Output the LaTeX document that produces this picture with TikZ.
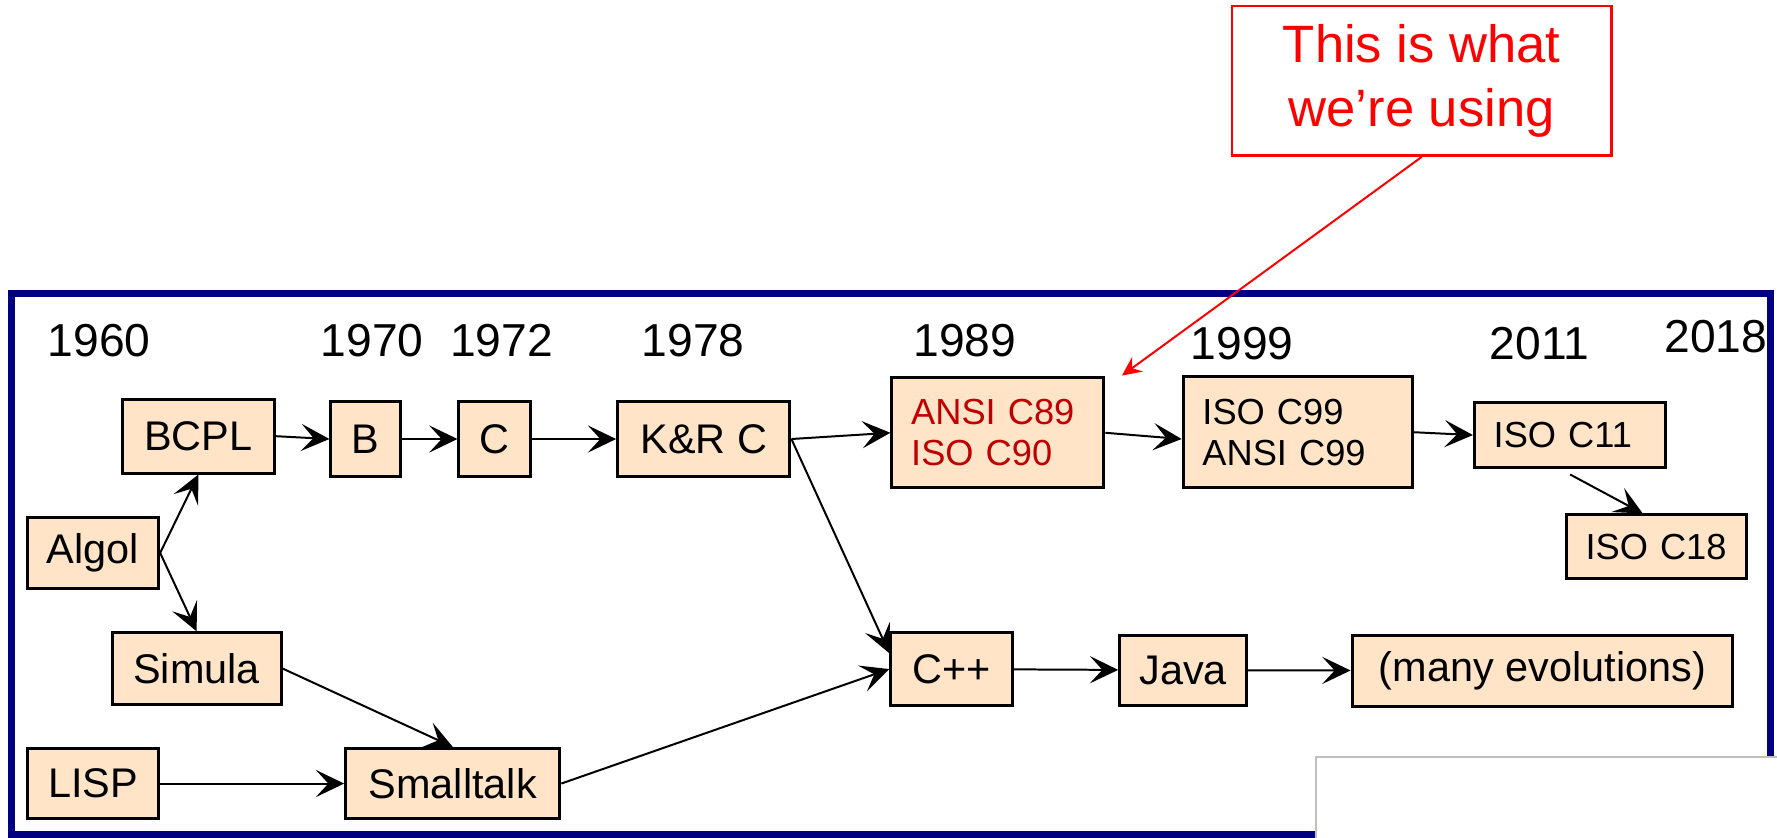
\documentclass[tikz,border=0pt]{standalone}
\usepackage{fontspec}
\setmainfont{Liberation Sans}
\usepackage{xcolor}
\usetikzlibrary{arrows.meta,calc}

\definecolor{peach}{RGB}{255,228,200}
\definecolor{frameblue}{RGB}{0,0,128}
\definecolor{stdred}{RGB}{192,0,0}

\begin{document}
\begin{tikzpicture}[>={Stealth[length=2.5mm,width=2.4mm,inset=1.1mm]},
  lang/.style={draw,line width=0.75pt,fill=peach,inner sep=0pt,
    font=\fontsize{10.4}{12.5}\selectfont},
  std/.style={lang,align=left,inner xsep=0.17cm,
    font=\fontsize{9.1}{10.3}\selectfont},
  yr/.style={anchor=base,font=\fontsize{11.6}{14}\selectfont},
  link/.style={->,line width=0.5pt}]

  \useasboundingbox (0,0) rectangle (15.68,7.394);
  \draw[frameblue,line width=1.7pt] (0.10,0.03) rectangle (15.62,4.805);

  % years along the top
  \node[yr] (y1960) at (0.875,4.25) {1960};
  \node[yr] (y1970) at (3.285,4.25) {1970};
  \node[yr] (y1972) at (4.425,4.25) {1972};
  \node[yr] (y1978) at (6.115,4.25) {1978};
  \node[yr] (y1989) at (8.515,4.25) {1989};
  \node[yr] (y1999) at (10.96,4.22) {1999};
  \node[yr] (y2011) at (13.585,4.22) {2011};
  \node[yr] (y2018) at (15.14,4.28) {2018};

  % languages
  \node[lang,minimum width=1.34cm,minimum height=0.65cm] (bcpl) at (1.75,3.545) {BCPL};
  \node[lang,minimum width=0.61cm,minimum height=0.66cm] (b) at (3.225,3.52) {B};
  \node[lang,minimum width=0.63cm,minimum height=0.66cm] (c) at (4.365,3.52) {C};
  \node[lang,minimum width=1.52cm,minimum height=0.66cm] (kr) at (6.21,3.52) {K\&R C};
  \node[lang,minimum width=1.16cm,minimum height=0.63cm] (algol) at (0.82,2.515) {Algol};
  \node[lang,minimum width=1.49cm,minimum height=0.63cm] (simula) at (1.735,1.495) {Simula};
  \node[lang,minimum width=1.16cm,minimum height=0.62cm] (lisp) at (0.82,0.48) {LISP};
  \node[lang,minimum width=1.89cm,minimum height=0.62cm] (smalltalk) at (3.995,0.48) {Smalltalk};
  \node[lang,minimum width=1.07cm,minimum height=0.65cm] (cpp) at (8.395,1.49) {C++};
  \node[lang,minimum width=1.12cm,minimum height=0.62cm] (java) at (10.44,1.48) {Java};
  \node[lang,minimum width=3.36cm,minimum height=0.63cm] (many) at (13.61,1.475) {(many evolutions)};

  % standards
  \node[std,text width=1.53cm,minimum height=0.97cm,text=stdred] (ansi) at (8.805,3.575) {ANSI C89\\ISO C90};
  \node[std,text width=1.68cm,minimum height=0.98cm] (iso99) at (11.45,3.58) {ISO C99\\ANSI C99};
  \node[std,text width=1.35cm,minimum height=0.57cm] (iso11) at (13.855,3.555) {ISO C11};
  \node[std,text width=1.25cm,minimum height=0.56cm] (iso18) at (14.615,2.57) {ISO C18};

  \draw[link] (algol.east) -- (bcpl.south);
  \draw[link] (algol.east) -- (simula.north);
  \draw[link] (bcpl.east) -- (b.west);
  \draw[link] (b) -- (c);
  \draw[link] (c) -- (kr);
  \draw[link] (kr.east) -- (ansi.west);
  \draw[link] (kr.east) -- ([yshift=0.14cm]cpp.west);
  \draw[link] (ansi.east) -- ([yshift=-0.06cm]iso99.west);
  \draw[link] (iso99.east) -- (iso11.west);
  \draw[link] ($(iso11.south)+(0,-0.05)$) -- ($(iso18.north)+(-0.12,0)$);
  \draw[link] (simula.east) -- (smalltalk.north);
  \draw[link] (lisp) -- (smalltalk);
  \draw[link] (smalltalk.east) -- (cpp.west);
  \draw[link] (cpp) -- (java);
  \draw[link] (java) -- (many);

  % callout
  \node[draw=red,line width=0.6pt,text=red,minimum width=3.35cm,minimum height=1.32cm,
    align=center,font=\fontsize{13.2}{15.9}\selectfont] (note) at (12.545,6.68) {This is what\\we’re using};
  \coordinate (tip) at (9.90,4.08);
  \draw[red,line width=0.5pt,-{Stealth[length=1.7mm,width=1.6mm,inset=0.6mm]}] (note.south) -- (tip);

  \fill[white] (11.61,0) rectangle (15.68,0.713);
  \draw[gray!50,line width=0.6pt] (11.61,0) -- (11.61,0.713) -- (15.68,0.713);
\end{tikzpicture}
\end{document}
